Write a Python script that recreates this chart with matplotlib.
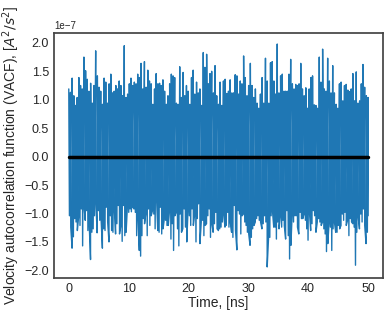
import numpy as np
import matplotlib
matplotlib.use('Agg')
import matplotlib.pyplot as plt

# upper peaks of the VACF trace (units of 1e-7 A^2/s^2), left to right
vacf_peaks = [
    1.19, 1.13, 1.38, 1.07, 0.90, 1.04, 1.39, 1.25, 1.19, 1.75, 1.51, 1.36, 1.15, 1.29, 0.94,
    1.25, 1.86, 1.42, 1.22, 1.15, 0.92, 1.38, 1.31, 0.94, 1.28, 1.45, 1.12, 1.15, 1.25, 1.19,
    1.33, 1.25, 1.07, 1.95, 1.04, 1.10, 1.28, 1.38, 1.25, 1.31, 1.28, 1.45, 1.39, 1.64, 1.19,
    1.67, 1.22, 1.52, 1.33, 1.28, 0.92, 1.19, 1.46, 1.28, 1.29, 1.25,
    1.35, 1.15, 0.92, 1.07, 1.28, 1.45, 1.42, 1.39, 0.94, 0.92, 1.58, 1.04, 1.48, 1.07, 1.25,
    1.15, 0.92, 1.39, 1.52, 1.10, 1.31, 1.12, 1.19, 0.90, 1.83, 1.57, 1.80, 1.28, 1.46, 1.50,
    1.12, 1.60, 1.07, 0.92, 1.31, 0.90, 1.33, 1.36, 1.11, 1.15, 1.35, 1.12, 1.12, 1.44, 1.42,
    1.10, 1.33, 1.28, 1.77, 1.39, 1.07, 1.25, 1.64, 1.25, 1.04, 1.19, 0.94, 0.85, 1.10, 1.39,
    0.94,
    1.73, 1.33, 0.94, 1.65, 1.67, 1.33, 1.10, 1.98, 1.12, 1.42, 1.45, 1.15, 1.15, 1.15, 1.45,
    1.71, 1.28, 1.19, 1.27, 1.25, 1.28, 1.64, 1.19, 1.07, 1.21, 0.85, 1.19, 1.39, 1.42, 0.91,
    0.90, 0.85, 1.75, 1.31, 1.89, 1.19, 1.15, 1.73, 1.33, 1.12, 1.60, 1.12, 0.92, 0.85, 1.28,
    1.31, 0.98, 1.25, 1.27, 1.17, 1.14, 1.19, 1.46, 0.98, 1.49, 0.94, 0.98, 1.28, 1.62, 1.22,
    1.07, 1.04,
]

# lower troughs of the VACF trace (units of 1e-7 A^2/s^2), left to right
vacf_troughs = [
    -1.04, -1.24, -1.61, -1.41, -1.09, -1.15, -1.30, -1.04, -1.21, -0.92, -1.57, -0.86, -1.12,
    -0.95, -1.30, -1.18, -1.81, -1.33, -1.27, -1.04, -0.77, -1.34, -0.95, -1.12, -1.09, -1.61,
    -1.27, -1.30, -0.89, -1.15, -1.50, -1.04, -1.30, -1.33, -0.89, -1.36, -1.18, -0.86, -1.36,
    -1.21, -1.49, -0.86, -1.39, -1.33, -0.86, -0.98, -0.92, -0.97, -0.89, -0.92, -0.98, -1.39,
    -1.04, -1.65, -1.75, -1.39, -1.09, -1.18, -0.98, -1.39, -0.92, -1.21, -1.04, -0.95, -1.01,
    -1.27, -0.68, -1.30, -1.33, -0.89, -1.36, -1.27, -1.09, -1.12, -1.21,
    -1.21, -0.92, -1.45, -1.18, -1.65, -1.04, -0.98, -1.27, -1.57, -1.01, -1.33, -1.27, -0.92,
    -1.24, -1.50, -0.92, -1.04, -1.21, -0.92, -1.21, -1.01, -1.50, -1.09, -0.83, -1.53, -1.15,
    -1.12, -1.39, -1.21, -1.18, -1.04, -0.92, -1.42, -1.18, -1.33, -1.18, -0.98, -1.27, -1.30,
    -1.27, -1.24, -1.15, -1.01, -1.24, -1.21, -0.98, -1.24, -1.15, -1.33, -1.42, -0.86, -1.30,
    -1.64, -0.95, -1.01, -1.36, -1.04, -1.01, -1.15, -1.21, -1.33, -1.36, -1.56, -1.42, -1.27,
    -1.21, -1.15, -1.09, -1.04, -1.12, -1.15, -1.27, -1.18, -1.04, -1.15, -1.94, -1.45,
    -1.42, -1.04, -0.95, -1.24, -1.24, -1.45, -1.15, -1.27, -1.04, -1.24, -1.12, -1.21, -1.45,
    -0.95, -1.39, -1.80, -1.56, -0.98, -1.15, -1.04, -1.04, -1.24, -1.36, -0.98, -1.09, -1.09,
    -1.01, -1.12, -1.27, -1.47, -0.95, -1.30, -1.18, -0.95, -1.04, -1.33, -1.15, -1.09, -1.15,
    -1.21, -1.15, -1.27, -1.36, -1.67, -1.53, -1.15, -1.24, -1.65, -1.27, -1.15, -1.33, -1.33,
    -1.21, -1.27, -1.21, -1.01, -1.12, -0.98, -1.21, -1.12, -1.39, -1.09, -1.15, -1.18, -1.24,
    -1.91, -1.33, -1.04, -1.27, -1.01, -1.15, -0.92, -1.21, -1.53, -1.33, -1.04,
]

# averaged VACF level
avg_time = [0.0, 50.0]
avg_vacf = [0.0, 0.0]

t_end = 50.0

t_peaks = np.linspace(0, t_end, len(vacf_peaks))
t_troughs = np.linspace(0, t_end, len(vacf_troughs)) + 0.5 * t_end / len(vacf_troughs)
t_troughs[-1] = t_end

t_all = np.concatenate([t_peaks, t_troughs])
v_all = np.concatenate([vacf_peaks, vacf_troughs]) * 1e-7
order = np.argsort(t_all, kind='stable')
t_all = t_all[order]
v_all = v_all[order]

plt.style.use('seaborn-v0_8-white')
fig = plt.figure(figsize=(3.9, 3.16), dpi=100)
ax = fig.add_axes([0.138, 0.12, 0.844, 0.776])
ax.plot(t_all, v_all, color='#1f77b4', lw=1.0)
ax.plot(avg_time, np.array(avg_vacf) * 1e-7, color='black', lw=2.5)

ax.set_xlabel('Time, [ns]', fontsize=10, labelpad=1)
ax.set_ylabel('Velocity autocorrelation function (VACF), [$A^2/s^2$]', fontsize=10, labelpad=2)
ax.tick_params(labelsize=9)
ax.yaxis.get_offset_text().set_fontsize(7)
for s in ax.spines.values():
    s.set_color('#444444')

fig.savefig('out.png', dpi=100)
